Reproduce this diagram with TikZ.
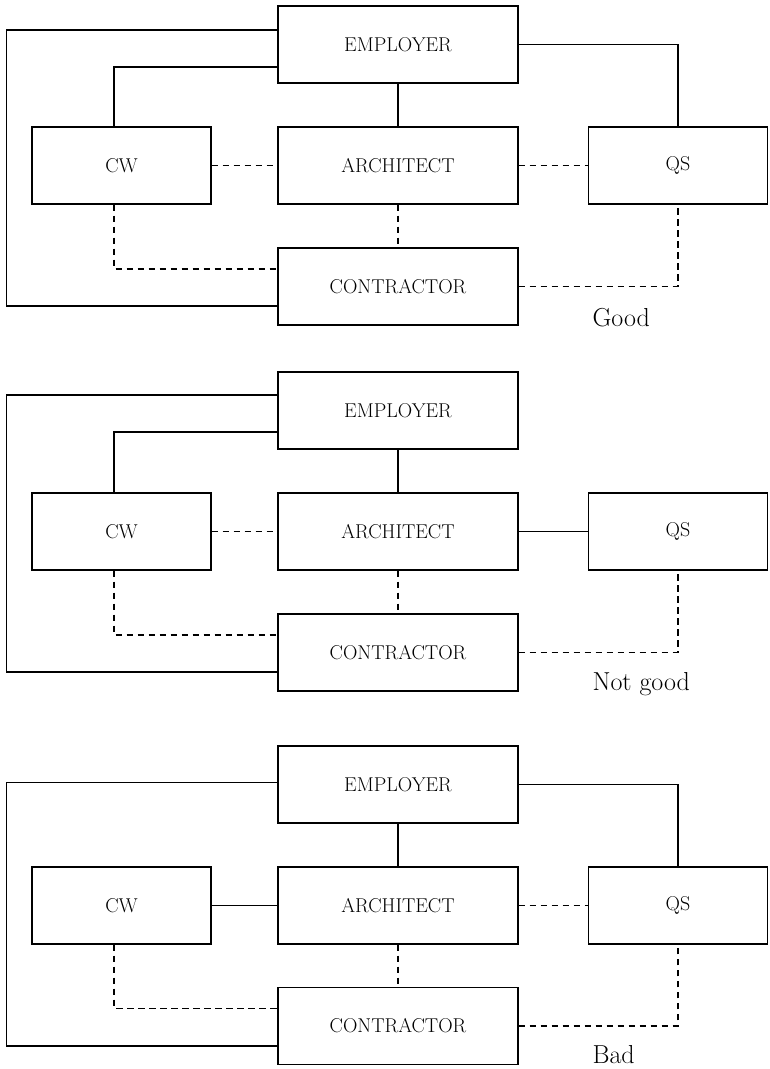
\documentclass[tikz,border=0pt]{standalone}
\usetikzlibrary{positioning}

\begin{document}
\begin{tikzpicture}[x=1pt,y=-1pt,
		box/.style={draw,line width=1.4pt,minimum width=240pt,minimum height=77pt,inner sep=0pt,font=\fontsize{20}{20}\selectfont},
		side/.style={box,minimum width=179pt},
		link/.style={line width=1.6pt},
		weak/.style={line width=1.2pt,dash pattern=on 6.5pt off 4.5pt},
		verdict/.style={anchor=base west,font=\fontsize{26}{26}\selectfont}]
		\useasboundingbox (0,0) rectangle (770,1069);

		% good
		\draw (398,44.5) node [box] (e1){EMPLOYER};
		\draw (121.5,165.5) node [side] (w1){CW};
		\draw (398,165.5) node [box] (a1){ARCHITECT};
		\draw (678,165.5) node [side] (q1){QS};
		\draw (398,286.5) node [box] (c1){CONTRACTOR};
		\node [verdict] (v1) at (589,326) {Good};

		\draw [link] ([yshift=14.5pt]e1.west) -- ++(-271,0) |- ([yshift=-19.5pt]c1.west);
		\draw [link] ([yshift=-22.5pt]e1.west) -| ([xshift=-7.5pt]w1.north);
		\draw [link] (e1) -- (a1);
		\draw [link] (e1) -| (q1);
		\draw [weak]
		(w1) edge (a1)
		(a1) edge (q1)
			 edge (c1);
		\draw [weak] ([xshift=-7.5pt]w1.south) |- ([yshift=17.5pt]c1.west);
		\draw [weak] (c1) -| (q1);

		% not good
		\draw (398,410.5) node [box] (e2){EMPLOYER};
		\draw (121.5,531.5) node [side] (w2){CW};
		\draw (398,531.5) node [box] (a2){ARCHITECT};
		\draw (678,531.5) node [side] (q2){QS};
		\draw (398,652.5) node [box] (c2){CONTRACTOR};
		\node [verdict] (v2) at (589,690) {Not good};

		\draw [link] ([yshift=15.5pt]e2.west) -- ++(-271,0) |- ([yshift=-19.5pt]c2.west);
		\draw [link] ([yshift=-21.5pt]e2.west) -| ([xshift=-7.5pt]w2.north);
		\draw [link] (e2) -- (a2);
		\draw [link] (a2) -- (q2);
		\draw [weak]
		(w2) edge (a2)
		(a2) edge (c2);
		\draw [weak] ([xshift=-7.5pt]w2.south) |- ([yshift=17.5pt]c2.west);
		\draw [weak] (c2) -| (q2);

		% bad
		\draw (398,784.5) node [box] (e3){EMPLOYER};
		\draw (121.5,905.5) node [side] (w3){CW};
		\draw (398,905.5) node [box] (a3){ARCHITECT};
		\draw (678,905.5) node [side] (q3){QS};
		\draw (398,1026) node [box] (c3){CONTRACTOR};
		\node [verdict] (v3) at (589,1063) {Bad};

		\draw [link] ([yshift=2pt]e3.west) -- ++(-271,0) |- ([yshift=-20pt]c3.west);
		\draw [link] (e3) -- (a3);
		\draw [link] (e3) -| (q3);
		\draw [link] (w3) -- (a3);
		\draw [weak]
		(a3) edge (q3)
			 edge (c3);
		\draw [weak] ([xshift=-7.5pt]w3.south) |- ([yshift=17.5pt]c3.west);
		\draw [weak] (c3) -| (q3);
	\end{tikzpicture}
\end{document}
